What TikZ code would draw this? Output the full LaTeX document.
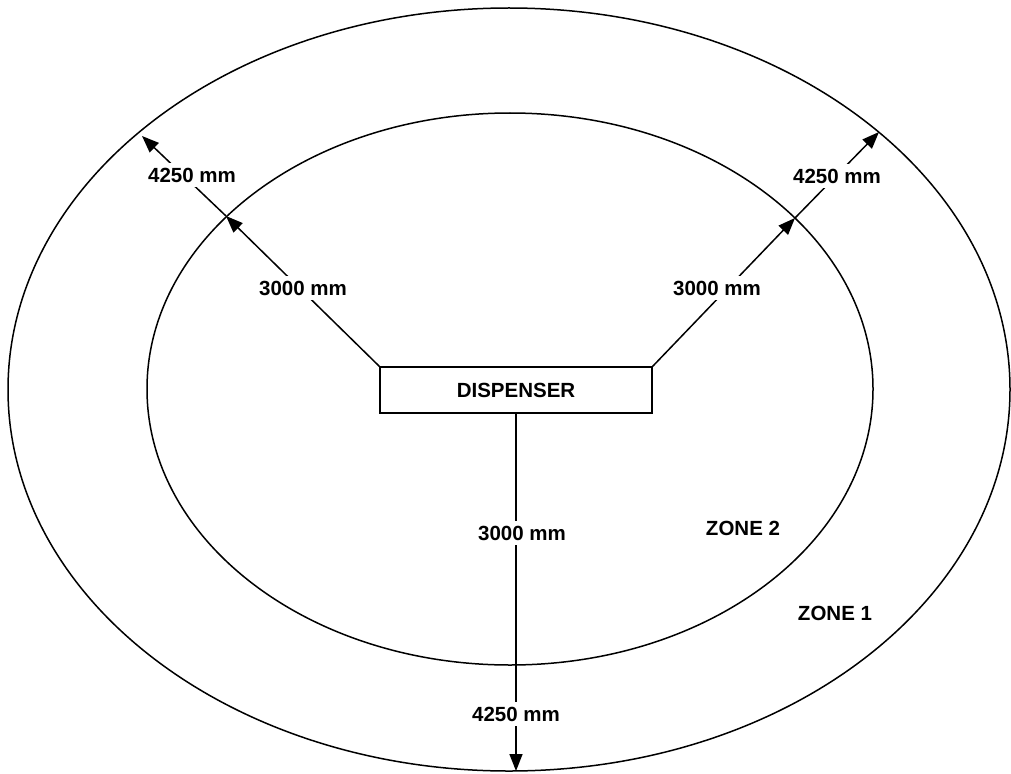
\documentclass[tikz,border=0pt]{standalone}
\usepackage{fontspec}
\setmainfont{Liberation Sans}
\usetikzlibrary{arrows.meta}
\begin{document}
\begin{tikzpicture}[x=1pt,y=-1pt,
  line/.style={line width=1.5pt},
  arr/.style={line width=1.5pt,-{Triangle[length=17pt,width=13pt]}},
  lbl/.style={fill=white,inner sep=4.5pt,font=\fontsize{20.5}{24}\selectfont\bfseries},
  zone/.style={inner sep=0pt,font=\fontsize{20.5}{24}\selectfont\bfseries}]
\useasboundingbox (0,0) rectangle (1011,773);
\draw[line] (509,389.5) ellipse [x radius=501, y radius=381.5];
\draw[line] (510,389) ellipse [x radius=363, y radius=276];
\node[draw,line width=1.5pt,minimum width=272pt,minimum height=46pt,inner sep=0pt,
  font=\fontsize{20.5}{24}\selectfont\bfseries] (disp) at (516,390) {DISPENSER};
\coordinate (li) at (226,216);
\coordinate (lo) at (142,136);
\coordinate (ri) at (795,218);
\coordinate (ro) at (879,132);
\coordinate (bi) at (516,665);
\coordinate (bo) at (516,771);
\draw[arr] (disp.north west) -- (li);
\draw[arr] (li) -- (lo);
\draw[arr] (disp.north east) -- (ri);
\draw[arr] (ri) -- (ro);
\draw[line] (disp.south) -- (bi);
\draw[arr] (bi) -- (bo);
\node[lbl] (l3) at (303,288) {3000 mm};
\node[lbl] (l4) at (192,175) {4250 mm};
\node[lbl] (r3) at (717,288) {3000 mm};
\node[lbl] (r4) at (837,176) {4250 mm};
\node[lbl] (b3) at (522,533) {3000 mm};
\node[lbl] (b4) at (516,714) {4250 mm};
\node[zone] (z2) at (743,528) {ZONE 2};
\node[zone] (z1) at (835,613) {ZONE 1};
\end{tikzpicture}
\end{document}
